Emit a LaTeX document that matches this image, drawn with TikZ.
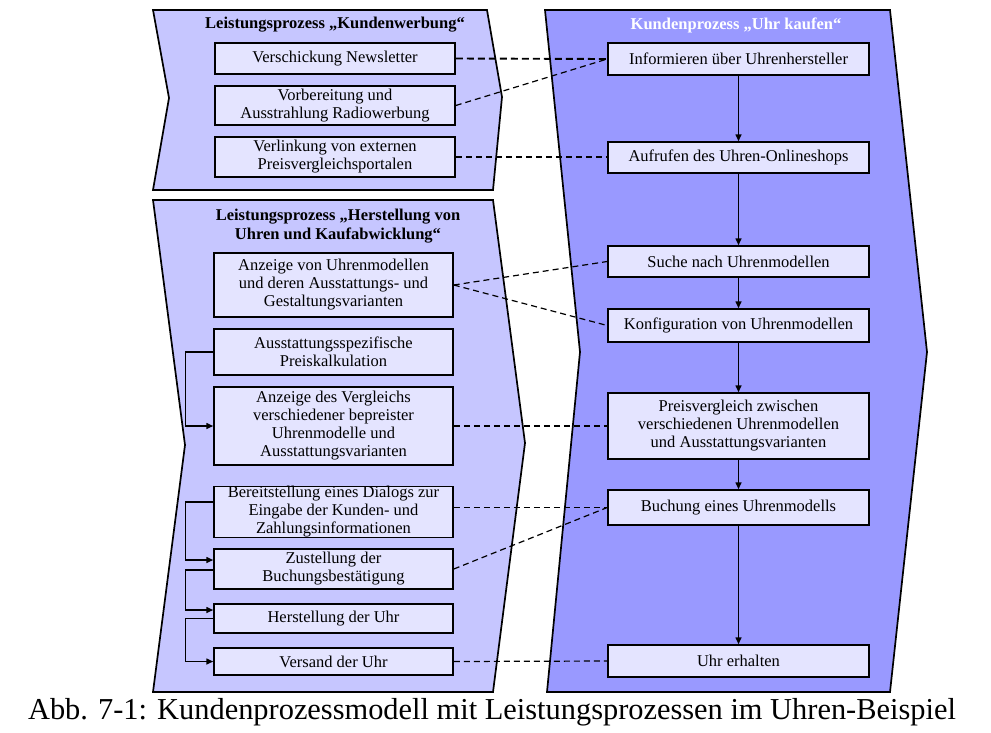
\documentclass[tikz,border=0pt]{standalone}
\usepackage{fontspec}
\setmainfont{Liberation Serif}
\usetikzlibrary{arrows.meta}
\definecolor{lanefill}{HTML}{C6C6FF}
\definecolor{custfill}{HTML}{9999FF}
\definecolor{boxfill}{HTML}{E4E4FF}
\begin{document}
\begin{tikzpicture}[x=1pt,y=-1pt,
  lane/.style={draw=black, line width=1.7pt, fill=lanefill, line join=miter},
  cust/.style={draw=black, line width=1.7pt, fill=custfill, line join=miter},
  box/.style={draw=black, line width=1.5pt, fill=boxfill, inner xsep=1pt, inner ysep=0pt, align=center,
    font=\fontsize{16.5}{18}\selectfont},
  lbox/.style={box, minimum width=240pt},
  rbox/.style={box, minimum width=261pt},
  flow/.style={-{Triangle[length=7pt,width=6pt]}, line width=1.5pt},
  link/.style={line width=1.2pt, dash pattern=on 6pt off 4pt},
  boldlink/.style={line width=1.9pt, dash pattern=on 7pt off 4pt},
  ttl/.style={font=\bfseries\fontsize{16.5}{18.5}\selectfont, align=center}]
\useasboundingbox (0,0) rectangle (991,732);
\fill[white] (0,0) rectangle (991,732);

% swimlane shapes
\draw[lane] (153,10) -- (487,10) -- (502,97) -- (493,190) -- (153,190) -- (169,98) -- cycle;
\draw[lane] (153,200) -- (493,200) -- (525,443) -- (493,692) -- (153,692) -- (185,445) -- cycle;
\draw[cust] (545,10) -- (890,10) -- (927,352) -- (890,692) -- (547,692) -- (580,352) -- cycle;

% titles
\node[ttl] (t1) at (335,25) {Leistungsprozess „Kundenwerbung“};
\node[ttl] (t2) at (338,226) {Leistungsprozess „Herstellung von\\Uhren und Kaufabwicklung“};
\node[ttl, text=white] (t3) at (736,25) {Kundenprozess „Uhr kaufen“};

% left top boxes
\node[lbox, minimum height=31pt] (n1) at (335,58.5) {Verschickung Newsletter};
\node[lbox, minimum height=39pt] (n2) at (335,105.5) {Vorbereitung und\\Ausstrahlung Radiowerbung};
\node[lbox, minimum height=40pt] (n3) at (335,157) {Verlinkung von externen\\Preisvergleichsportalen};

% left lower boxes
\node[lbox, minimum width=239pt, minimum height=64pt] (l1) at (333.5,285) {Anzeige von Uhrenmodellen\\und deren Ausstattungs- und\\Gestaltungsvarianten};
\node[lbox, minimum width=239pt, minimum height=46pt] (l2) at (333.5,352) {Ausstattungsspezifische\\Preiskalkulation};
\node[lbox, minimum width=239pt, minimum height=78pt] (l3) at (333.5,426) {Anzeige des Vergleichs\\verschiedener bepreister\\Uhrenmodelle und\\Ausstattungsvarianten};
\node[lbox, minimum width=239pt, minimum height=50pt] (l4) at (333.5,512) {Bereitstellung eines Dialogs zur\\Eingabe der Kunden- und\\Zahlungsinformationen};
\node[lbox, minimum width=239pt, minimum height=40pt] (l5) at (333.5,569) {Zustellung der\\Buchungsbestätigung};
\node[lbox, minimum width=239pt, minimum height=29pt] (l6) at (333.5,618.5) {Herstellung der Uhr};
\node[lbox, minimum width=239pt, minimum height=27pt] (l7) at (333.5,661.5) {Versand der Uhr};

% right boxes
\node[rbox, minimum height=32pt] (r1) at (738.5,59) {Informieren über Uhrenhersteller};
\node[rbox, minimum height=31pt] (r2) at (738.5,157.5) {Aufrufen des Uhren-Onlineshops};
\node[rbox, minimum height=31pt] (r3) at (738.5,261.5) {Suche nach Uhrenmodellen};
\node[rbox, minimum height=33pt] (r4) at (738.5,325.5) {Konfiguration von Uhrenmodellen};
\node[rbox, minimum height=66pt] (r5) at (738.5,426) {Preisvergleich zwischen\\verschiedenen Uhrenmodellen\\und Ausstattungsvarianten};
\node[rbox, minimum height=35pt] (r6) at (738.5,507.5) {Buchung eines Uhrenmodells};
\node[rbox, minimum height=32pt] (r7) at (738.5,661) {Uhr erhalten};

% customer process flow
\draw[flow] (r1.south) -- (r2.north);
\draw[flow] (r2.south) -- (r3.north);
\draw[flow] (r3.south) -- (r4.north);
\draw[flow] (r4.south) -- (r5.north);
\draw[flow] (r5.south) -- (r6.north);
\draw[flow] (r6.south) -- (r7.north);

% internal flows
\draw[flow] (l2.west) -- ++(-28,0) |- (l3.west);
\draw[flow] ([yshift=10pt]l4.west) -- ++(-28,0) |- ([yshift=9pt]l5.west);
\draw[flow] ([yshift=-1pt]l5.west) -- ++(-28,0) |- ([yshift=8.5pt]l6.west);
\draw[flow] (l6.west) -- ++(-28,0) |- (l7.west);

% dashed links
\draw[boldlink] (n1.east) -- (r1.west);
\draw[link] (n2.east) -- (r1.west);
\draw[link] (n3.east) -- (n3.east -| r2.west);
\draw[link] (l1.east) -- (r3.west);
\draw[link] (l1.east) -- (r4.west);
\draw[link] (l3.east) -- (r5.west);
\draw[link] (r6.west -| l4.east) -- (r6.west);
\draw[link] (l5.east) -- (r6.west);
\draw[link] (l7.east) -- (r7.west);

% caption
\node (cap) at (492,712) {\fontsize{30.4}{32}\selectfont Abb. 7-1: Kundenprozessmodell mit Leistungsprozessen im Uhren-Beispiel};
\end{tikzpicture}
\end{document}
